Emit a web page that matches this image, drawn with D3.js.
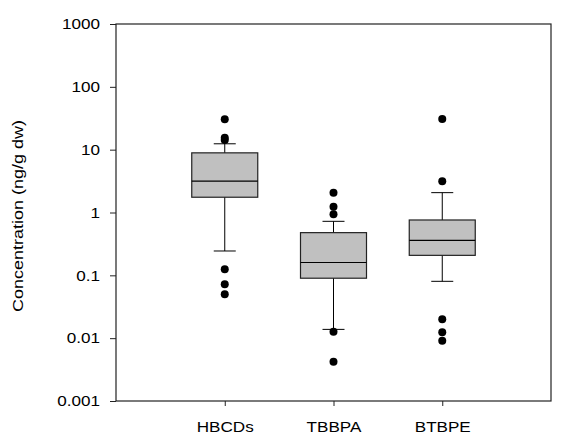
<!DOCTYPE html>
<html>
<head>
<meta charset="utf-8">
<script src="https://cdn.jsdelivr.net/npm/d3@7"></script>
<style>
  body { margin: 0; background: #fff; }
  text { font-family: "Liberation Sans", Arial, sans-serif; fill: #000; }
</style>
</head>
<body>
<svg id="chart" width="571" height="435"></svg>
<script>
// categories and box stats
const categories = ["HBCDs", "TBBPA", "BTBPE"];
const q1 = [1.75, 0.09, 0.208];
const median = [3.15, 0.16, 0.36];
const q3 = [8.9, 0.478, 0.76];
const whiskerLow = [0.244, 0.0138, 0.0803];
const whiskerHigh = [12.4, 0.724, 2.07];
const outliers = [
  [30.4, 15.5, 14.3, 0.125, 0.072, 0.050],
  [2.07, 1.24, 0.935, 0.0127, 0.00423],
  [30.8, 3.14, 0.020, 0.0124, 0.0091]
];
const yTicks = [0.001, 0.01, 0.1, 1, 10, 100, 1000];
const yTickLabels = ["0.001", "0.01", "0.1", "1", "10", "100", "1000"];

const margin = {top: 24, right: 20, bottom: 34, left: 116};
const width = 571, height = 435;
const stretch = 1.14; // the original text is drawn a bit wide

let svg = d3.select("#chart");

let x = d3.scaleLinear()
  .domain([0, categories.length + 1])
  .range([margin.left, width - margin.right]);

let y = d3.scaleLog()
  .domain([0.001, 1000])
  .range([height - margin.bottom, margin.top]);

let boxW = 66, capW = 22;

let g = svg.selectAll(".box")
  .data(categories)
  .enter().append("g")
  .attr("class", "box");

// whiskers
g.append("line")
  .attr("x1", (d, i) => x(i + 1)).attr("x2", (d, i) => x(i + 1))
  .attr("y1", (d, i) => y(whiskerLow[i])).attr("y2", (d, i) => y(whiskerHigh[i]))
  .attr("stroke", "#000").attr("stroke-width", 1);
g.append("line")
  .attr("x1", (d, i) => x(i + 1) - capW / 2).attr("x2", (d, i) => x(i + 1) + capW / 2)
  .attr("y1", (d, i) => y(whiskerLow[i])).attr("y2", (d, i) => y(whiskerLow[i]))
  .attr("stroke", "#000").attr("stroke-width", 1);
g.append("line")
  .attr("x1", (d, i) => x(i + 1) - capW / 2).attr("x2", (d, i) => x(i + 1) + capW / 2)
  .attr("y1", (d, i) => y(whiskerHigh[i])).attr("y2", (d, i) => y(whiskerHigh[i]))
  .attr("stroke", "#000").attr("stroke-width", 1);

// box
g.append("rect")
  .attr("x", (d, i) => x(i + 1) - boxW / 2)
  .attr("width", boxW)
  .attr("y", (d, i) => y(q3[i]))
  .attr("height", (d, i) => y(q1[i]) - y(q3[i]))
  .attr("fill", "#c0c0c0")
  .attr("stroke", "#222").attr("stroke-width", 1.2);

g.append("line")
  .attr("x1", (d, i) => x(i + 1) - boxW / 2).attr("x2", (d, i) => x(i + 1) + boxW / 2)
  .attr("y1", (d, i) => y(median[i])).attr("y2", (d, i) => y(median[i]))
  .attr("stroke", "#000").attr("stroke-width", 1.2);

// outlier dots
g.selectAll(".dot")
  .data((d, i) => outliers[i].map(v => ({i: i, v: v})))
  .enter().append("circle")
  .attr("class", "dot")
  .attr("cx", d => x(d.i + 1))
  .attr("cy", d => y(d.v))
  .attr("r", 4)
  .attr("fill", "#000");

// frame
svg.append("rect")
  .attr("x", margin.left).attr("y", margin.top)
  .attr("width", width - margin.right - margin.left)
  .attr("height", height - margin.bottom - margin.top)
  .attr("fill", "none")
  .attr("stroke", "#222").attr("stroke-width", 1.2);

function widen(sel) {
  sel.each(function() {
    let t = d3.select(this);
    let tx = +t.attr("x") || 0;
    let ty = +t.attr("y") || 0;
    t.attr("x", 0).attr("y", 0)
      .attr("transform", `translate(${tx},${ty}) scale(${stretch},1)`);
  });
}

// y axis
let yAxis = d3.axisLeft(y)
  .tickValues(yTicks)
  .tickFormat((d, i) => yTickLabels[i])
  .tickSizeOuter(0)
  .tickSize(6)
  .tickPadding(10);

let ya = svg.append("g")
  .attr("transform", `translate(${margin.left},0)`)
  .call(yAxis);
ya.select(".domain").remove();
ya.selectAll("text").style("font-size", "15px").attr("font-family", null).call(widen);
ya.selectAll("line").attr("stroke", "#222");

// x axis
let xAxis = d3.axisBottom(x)
  .tickValues(categories.map((c, i) => i + 1))
  .tickFormat((d) => categories[d - 1])
  .tickSizeOuter(0)
  .tickSize(5)
  .tickPadding(15.5);

let xa = svg.append("g")
  .attr("transform", `translate(0,${height - margin.bottom})`)
  .call(xAxis);
xa.select(".domain").remove();
xa.selectAll("text").style("font-size", "15px").attr("font-family", null).call(widen);
xa.selectAll("line").attr("stroke", "#222");

// y title
svg.append("text")
  .attr("transform", `translate(23,216) rotate(-90) scale(1.2,1)`)
  .attr("text-anchor", "middle")
  .style("font-size", "15px")
  .text("Concentration (ng/g dw)");
</script>
</body>
</html>
